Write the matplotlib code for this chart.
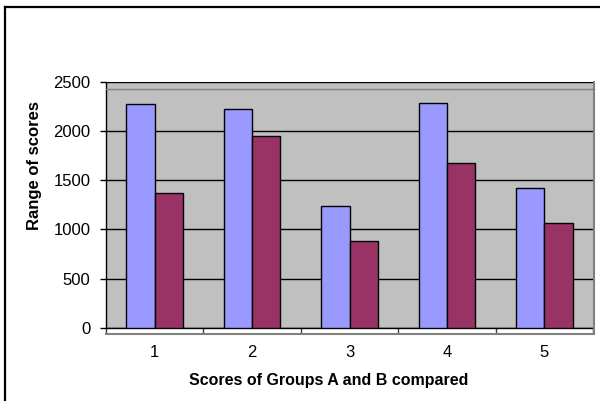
import matplotlib
matplotlib.use("Agg")
import matplotlib.pyplot as plt
from matplotlib.lines import Line2D
import numpy as np

categories = ["1", "2", "3", "4", "5"]
group_a = [2280, 2230, 1240, 2290, 1420]
group_b = [1370, 1950, 880, 1680, 1070]
y_ticks = [0, 500, 1000, 1500, 2000, 2500]

plt.rcParams["font.family"] = ["Liberation Sans", "DejaVu Sans"]

W, H = 600, 401
fig = plt.figure(figsize=(W / 100, H / 100), dpi=100)
fig.patch.set_facecolor("white")

def fx(px):
    return px / W

def fy(py):
    return 1 - py / H

# chart frame (left and top edges visible)
fig.add_artist(Line2D([fx(4.5), fx(4.5)], [fy(6.5), fy(H + 5)], color="black", lw=1.6))
fig.add_artist(Line2D([fx(4.5), fx(W + 5)], [fy(6.5), fy(6.5)], color="black", lw=1.6))

left, right, top, bottom = 106, 593, 82, 327.7
ax = fig.add_axes([fx(left), fy(bottom), (right - left) / W, (bottom - top) / H])
ax.set_facecolor("#c0c0c0")

x = np.arange(len(categories))
w = 0.29
ax.bar(x - w / 2, group_a, width=w, color="#9999ff", edgecolor="black", linewidth=1.0, zorder=3)
ax.bar(x + w / 2, group_b, width=w, color="#993366", edgecolor="black", linewidth=1.0, zorder=3)

ax.set_xlim(-0.5, len(categories) - 0.5)
ax.set_ylim(0, 2500)
ax.set_yticks(y_ticks)
ax.set_yticklabels([str(v) for v in y_ticks], fontsize=12)
ax.yaxis.grid(True, color="black", lw=1.0, zorder=1)
ax.set_axisbelow(True)

# category labels in the middle, tick marks on the boundaries
ax.set_xticks(x)
ax.set_xticklabels(categories, fontsize=12)
ax.tick_params(axis="x", which="major", length=0, pad=12.5)
ax.set_xticks(np.arange(len(categories) + 1) - 0.5, minor=True)
ax.tick_params(axis="x", which="minor", length=4, width=1, color="#404040", direction="out")
ax.tick_params(axis="y", length=4.3, width=1, color="black", direction="out", pad=7)

for s in ["top", "right"]:
    ax.spines[s].set_visible(False)
ax.spines["left"].set_color("black")
ax.spines["bottom"].set_color("black")
ax.spines["left"].set_linewidth(1.0)
ax.spines["bottom"].set_linewidth(1.0)

# plot area outline
fig.add_artist(Line2D([fx(left), fx(594)], [fy(89.3), fy(89.3)], color="#808080", lw=1.0))
fig.add_artist(Line2D([fx(593.5), fx(593.5)], [fy(82), fy(334.3)], color="#808080", lw=1.5))
fig.add_artist(Line2D([fx(left), fx(594)], [fy(334.3), fy(334.3)], color="#808080", lw=1.5))

ax.set_ylabel("Range of scores", fontsize=12, fontweight="bold")
ax.yaxis.set_label_coords((42 - left) / (right - left), (bottom - 165.5) / (bottom - top))
ax.set_xlabel("Scores of Groups A and B compared", fontsize=11.5, fontweight="bold")
ax.xaxis.set_label_coords((328.7 - left) / (right - left), (bottom - 372.5) / (bottom - top))

fig.savefig("out.png", dpi=100, facecolor="white")
